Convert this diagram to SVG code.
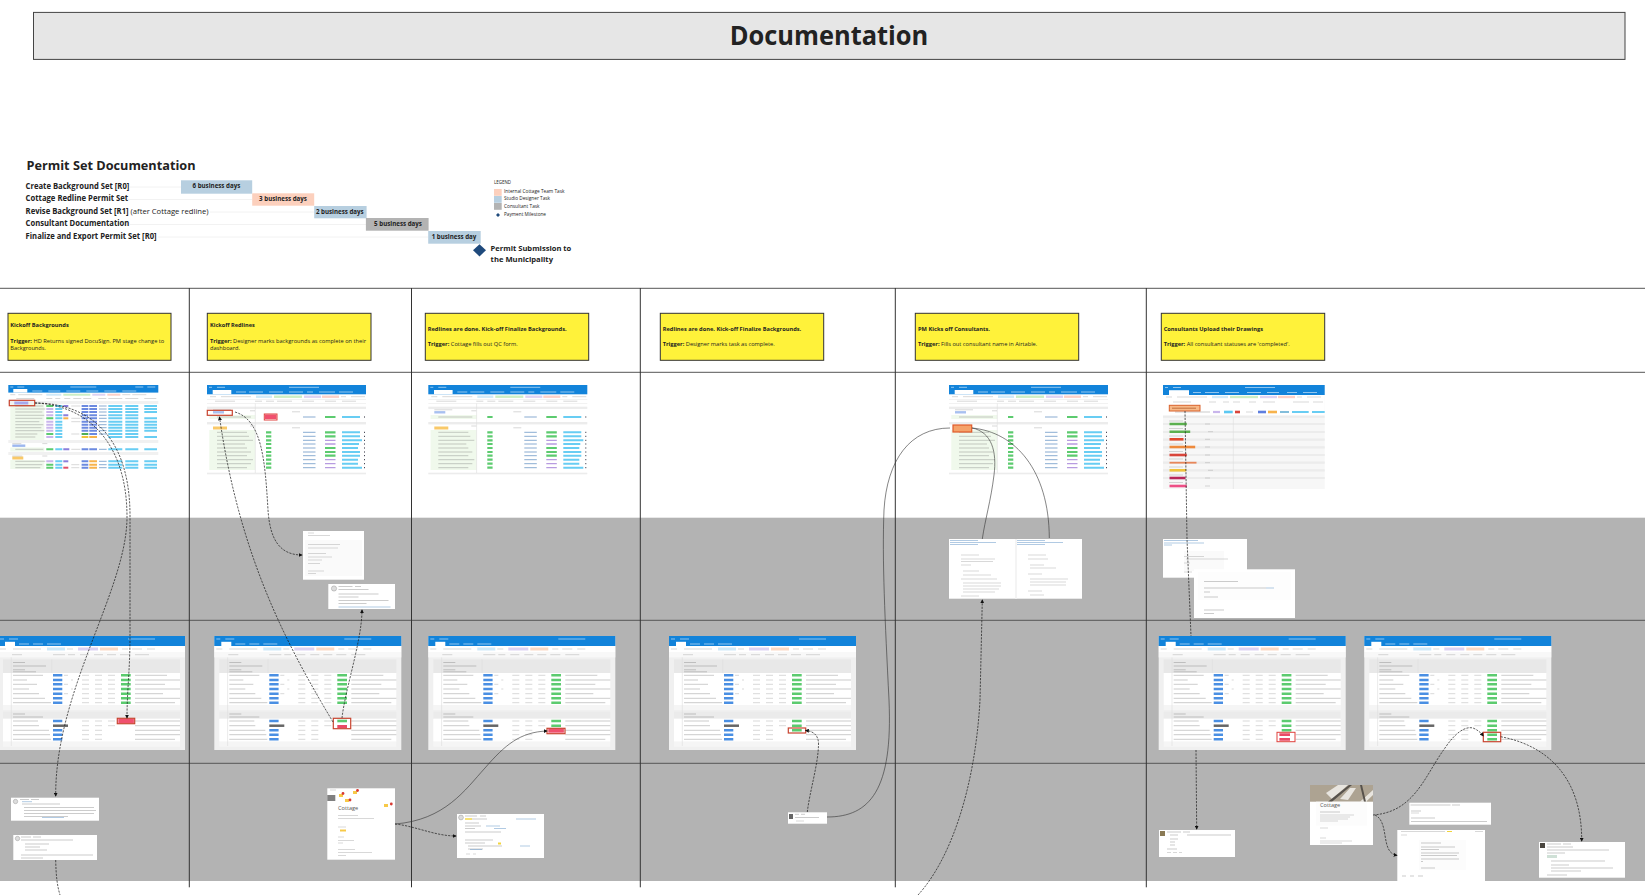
<svg xmlns="http://www.w3.org/2000/svg" width="1645" height="895" viewBox="0 0 1645 895">
<style>
text{font-family:"Open Sans","Noto Sans","Liberation Sans",sans-serif;fill:#222}
.b{font-weight:700}
.y{fill:#fff23a;stroke:#333;stroke-width:1}
.yt{font-size:5.4px}
.gl{font-size:8px;font-weight:700}
.bl{font-size:6.2px;font-weight:700;text-anchor:middle}
.lg{font-size:4.6px}
.w{fill:#fff}
.t{fill:none;stroke:#777;stroke-width:.9;opacity:.42}
.t2{fill:none;stroke:#999;stroke-width:.7;opacity:.55}
.lk{fill:none;stroke:#5b8fc4;stroke-width:.8;opacity:.6}
.wl{fill:none;stroke:#fff;stroke-width:.9;opacity:.6}
.pg{fill:none;stroke:#5ccb6f;stroke-width:2.6}
.pb{fill:none;stroke:#4a8fe3;stroke-width:2.5}
.pr{fill:none;stroke:#e94a66;stroke-width:3.4}
.pd{fill:none;stroke:#666;stroke-width:2.5}
.pc{fill:none;stroke:#68cdf3;stroke-width:2}
.pi{fill:none;stroke:#6c8ae0;stroke-width:2}
.pv{fill:none;stroke:#c9b6ec;stroke-width:2}
.po{fill:none;stroke:#f7b34c;stroke-width:2}
.box{fill:none;stroke:#e0413c;stroke-width:1}
.rb{fill:none;stroke:#c8442f;stroke-width:1.2}
.c{fill:none;stroke:#1a1a1a;stroke-width:.7;stroke-dasharray:2.2 1.2}
.s{fill:none;stroke:#333;stroke-width:.6}
.hl{stroke:#555;stroke-width:1}
.vl{stroke:#333;stroke-width:1}
</style>
<defs>
<marker id="a" viewBox="0 0 6 6" refX="5" refY="3" markerWidth="4" markerHeight="4" orient="auto" markerUnits="userSpaceOnUse"><path d="M0 0L6 3L0 6Z" fill="#111"/></marker>
<g id="dash">
<rect width="187" height="114" fill="#f0f0f0"/>
<rect width="187" height="10" fill="#1283da"/>
<path class="wl" d="M2 3h4M11 3h9M130 3h27"/>
<rect x="7" y="5.8" width="10" height="4.2" fill="#fff"/>
<path class="wl" d="M21 8h10M35 8h10M49 8h14"/>
<rect y="10" width="187" height="6" fill="#fff"/>
<rect y="16" width="187" height="5.4" fill="#f8f8f8"/>
<path class="t2" d="M2 13h6M15 13h28M69 13h6M124 13h6M134 13h10M149 13h8M14 18.7h10M55 18.7h12M70 18.7h7M82 18.7h9M96 18.7h9M109 18.7h9M122 18.7h10M137 18.7h14"/>
<path d="M49 13h18" stroke="#cfe9f8" stroke-width="3" fill="none"/><path d="M80 13h20" stroke="#ddd2f2" stroke-width="3" fill="none"/><path d="M102 13h18" stroke="#fbd9c4" stroke-width="3" fill="none"/>
<rect x="5" y="23.3" width="177" height="14" fill="#e8e8e8"/>
<rect x="5" y="37" width="177" height="32" fill="#fff"/>
<rect x="5" y="69" width="177" height="5" fill="#f5f5f5"/>
<rect x="5" y="75.7" width="177" height="7" fill="#ebebeb"/>
<rect x="5" y="82.7" width="177" height="23" fill="#fff"/>
<rect x="5" y="105.7" width="177" height="5" fill="#f5f5f5"/>
<path d="M13.3 21.4V110M53.7 23.3V37" stroke="#ddd" stroke-width=".6" fill="none"/>
<path class="t" d="M15 26.5h12M15 30h33M15 33.8h12M15 35.8h23M15 78h12M15 81h30"/>
<path class="t" d="M15 39.3h30M15 44h14M15 48.3h24M15 53h16M15 57.7h26M15 62.3h32M15 66.7h38M15 85h25M15 89.7h26M15 94.3h36M15 98.7h37M15 103.3h38"/>
<path class="pb" d="M55 39.3h9.3M55 44h9.3M55 48.3h9.3M55 53h9.3M55 57.7h9.3M55 62.3h9.3M55 66.7h9.3M55 85h9.3M55 94.3h9.3M55 98.7h9.3M55 103.3h9.3"/>
<path class="pd" d="M55 89.7h15"/>
<path class="t2" d="M66 39.3h4M66 48.3h4M66 57.7h4M73 44h2M73 53h2"/>
<path class="t2" d="M84 39.3h7M97 39.3h7M110 39.3h7M84 44h7M97 44h7M110 44h7M84 48.3h7M97 48.3h7M110 48.3h7M84 53h7M97 53h7M110 53h7M84 57.7h7M97 57.7h7M110 57.7h7M84 62.3h7M97 62.3h7M110 62.3h7M84 66.7h7M97 66.7h7M110 66.7h7M84 85h7M97 85h7M110 85h7M84 89.7h7M97 89.7h7M110 89.7h7M84 94.3h7M97 94.3h7M84 98.7h7M97 98.7h7M84 103.3h7M97 103.3h7"/>
<path class="pg" d="M123 39.3h9.7M123 44h9.7M123 48.3h9.7M123 53h9.7M123 57.7h9.7M123 62.3h9.7M123 66.7h9.7"/>
<path class="t" d="M137 39.3h32M137 44h45M137 48.3h30M137 53h45M137 57.7h28M137 62.3h45M137 66.7h40M137 85h45M137 89.7h45M137 94.3h45M137 98.7h45M137 103.3h40"/>
</g>
<g id="trk">
<rect width="159" height="89.3" fill="#fff"/>
<rect width="159" height="9.3" fill="#1283da"/>
<rect x="5.7" y="5" width="18.6" height="4.3" fill="#fff"/>
<path class="wl" d="M2 2.3h3M10 2.3h8M82 2.3h30M29 7h10M42 7h14M62 7h14M82 7h14M100 7h6M112 7h16M132 7h14"/>
<path d="M49 11.7h16" stroke="#cfe9f8" stroke-width="2.4" fill="none"/><path d="M67 11.7h28" stroke="#cbeec5" stroke-width="2.4" fill="none"/><path d="M97 11.7h17" stroke="#ddd2f2" stroke-width="2.4" fill="none"/><path d="M115 11.7h17" stroke="#fbd0c8" stroke-width="2.4" fill="none"/>
<path class="t2" d="M3 11.7h6M14 11.7h30M134 11.7h5M144 11.7h14M8 16.2h20M48 16.2h7M59 16.2h8M70 16.2h15M95 16.2h12M118 16.2h11M135 16.2h14"/>
<rect y="14" width="159" height=".5" fill="#e5e5e5"/><rect y="18.3" width="159" height=".5" fill="#e5e5e5"/>
<rect y="21.7" width="159" height="2.2" fill="#ececec"/><rect y="37" width="159" height="2.4" fill="#ececec"/><rect y="87.7" width="159" height="1.6" fill="#ececec"/>
<rect x="2.3" y="30" width="46" height="4" fill="#f0f9ec"/><rect x="2.3" y="45" width="46" height="40" fill="#f0f9ec"/>
<path d="M48.3 18.5V88" stroke="#ddd" stroke-width=".6" fill="none"/>
<path d="M6 27.3h11" stroke="#a8c0f0" stroke-width="2.4" fill="none"/><path d="M6 43h14" stroke="#f9c969" stroke-width="3" fill="none"/>
<path class="t2" d="M6 24.8h18M43 25.8h5M43 41h5M85 26.8h8M85 42.8h8"/>
<path class="t" d="M10 32h34M10 47.3h30M10 51.3h32M10 55.3h36M10 59h28M10 63h30M10 67h34M10 70.7h30M10 74.7h36M10 78.7h34M10 82.7h30"/>
<path d="M96 32h12.5M96 47.3h12.5M96 51.3h12.5M96 55.3h12.5M96 59h12.5M96 63h12.5M96 67h12.5M96 70.7h12.5M96 74.7h12.5M96 78.7h12.5M96 82.7h12.5" stroke="#4a80b8" stroke-width="1" fill="none" opacity=".65"/>
<path d="M118 32h10.5M118 47.3h10.5M118 51.3h10.5M118 63h10.5M118 67h10.5M118 70.7h10.5" stroke="#5ccb6f" stroke-width="2.2" fill="none"/>
<path d="M118 55.3h10.5M118 59h10.5M118 74.7h10.5M118 78.7h10.5M118 82.7h10.5" stroke="#b79be0" stroke-width="1.3" fill="none"/>
<path class="pc" d="M135 32h18M135 47.3h18M135 51.3h18M135 55.3h20M135 59h17M135 63h16M135 67h18M135 70.7h18M135 74.7h16M135 78.7h16M135 82.7h20"/>
<path d="M157 32h1M157 47.3h1M157 51.3h1M157 55.3h1M157 59h1M157 63h1M157 67h1M157 70.7h1M157 74.7h1M157 78.7h1M157 82.7h1" stroke="#223" stroke-width="1" fill="none"/>
</g>
<path id="tg10" d="M59 32h5.3M59 47.3h5.3M59 51.3h5.3M59 55.3h5.3M59 59h5.3M59 63h5.3M59 67h5.3M59 70.7h5.3M59 74.7h5.3M59 78.7h5.3M59 82.7h5.3" stroke="#5ccb6f" stroke-width="2.2" fill="none"/>
</defs>

<rect width="1645" height="895" fill="#fff"/>
<g id="bands">
<rect y="517.7" width="1645" height="363.3" fill="#b3b3b3"/>
<path class="hl" d="M0 288.3H1645M0 372.3H1645M0 620.3H1645M0 763.3H1645"/>
<path class="vl" d="M189.3 288V887.3M411.5 288V887.3M640.3 288V887.3M895.3 288V887.3M1146.3 288V887.3"/>
</g>

<g id="title"><rect x="33.5" y="12.4" width="1591.5" height="47" fill="#e6e6e6" stroke="#444" stroke-width="1"/>
<text x="829" y="44.5" font-size="27.5" class="b" text-anchor="middle" textLength="198.5" lengthAdjust="spacingAndGlyphs">Documentation</text></g>

<g id="gantt">
<text x="26.5" y="170" font-size="13" class="b" textLength="169" lengthAdjust="spacingAndGlyphs">Permit Set Documentation</text>
<path d="M130 187h51M128 199.5h124M210 212h104M130 224.5h236M158 237h270" stroke="#f2f2f2" stroke-width="1" fill="none"/>
<text class="gl" x="25.6" y="189" textLength="103.7" lengthAdjust="spacingAndGlyphs">Create Background Set [R0]</text>
<text class="gl" x="25.6" y="201.3" textLength="102.6" lengthAdjust="spacingAndGlyphs">Cottage Redline Permit Set</text>
<text class="gl" x="25.6" y="213.7" textLength="183" lengthAdjust="spacingAndGlyphs">Revise Background Set [R1] <tspan font-weight="400">(after Cottage redline)</tspan></text>
<text class="gl" x="25.6" y="226" textLength="103.7" lengthAdjust="spacingAndGlyphs">Consultant Documentation</text>
<text class="gl" x="25.6" y="239" textLength="131" lengthAdjust="spacingAndGlyphs">Finalize and Export Permit Set [R0]</text>
<rect x="181" y="180.3" width="71.2" height="13.4" fill="#b7cfe0"/>
<rect x="252.2" y="193.3" width="62" height="12.4" fill="#fcd0bd"/>
<rect x="314.2" y="206" width="52.4" height="12.3" fill="#b7cfe0"/>
<rect x="365.9" y="218" width="62.7" height="12.7" fill="#b3b3b3"/>
<rect x="428.2" y="231" width="52.5" height="12.7" fill="#b7cfe0"/>
<text class="bl" x="216.4" y="187.7">6 business days</text>
<text class="bl" x="283" y="201">3 business days</text>
<text class="bl" x="339.8" y="213.7">2 business days</text>
<text class="bl" x="398" y="226">5 business days</text>
<text class="bl" x="454" y="238.7">1 business day</text>
<path d="M479.5 244.2L486 250.3L479.5 256.4L473 250.3Z" fill="#1f4a7c"/>
<text class="b" x="490.6" y="251" font-size="7.8" textLength="80.7" lengthAdjust="spacingAndGlyphs">Permit Submission to</text>
<text class="b" x="490.6" y="262.3" font-size="7.8" textLength="62.4" lengthAdjust="spacingAndGlyphs">the Municipality</text>
</g>
<g id="legend">
<text class="lg" x="494" y="184.3" textLength="17" lengthAdjust="spacingAndGlyphs">LEGEND</text>
<rect x="494" y="189" width="7.7" height="6.8" fill="#fcd0bd"/><rect x="494" y="196" width="7.7" height="6.8" fill="#b7cfe0"/><rect x="494" y="203" width="7.7" height="6.8" fill="#b3b3b3"/>
<path d="M498 213L500 215L498 217L496 215Z" fill="#1f4a7c"/>
<text class="lg" x="504" y="193.2" textLength="60.5" lengthAdjust="spacingAndGlyphs">Internal Cottage Team Task</text>
<text class="lg" x="504" y="200.4" textLength="46" lengthAdjust="spacingAndGlyphs">Studio Designer Task</text>
<text class="lg" x="504" y="208" textLength="35.6" lengthAdjust="spacingAndGlyphs">Consultant Task</text>
<text class="lg" x="504" y="216.4" textLength="42" lengthAdjust="spacingAndGlyphs">Payment Milestone</text>
</g>

<g id="trigger-1"><rect class="y" x="8" y="313.3" width="163" height="47"/>
<text class="yt b" x="10.3" y="326.7" textLength="58.5" lengthAdjust="spacingAndGlyphs">Kickoff Backgrounds</text>
<text class="yt" x="10.3" y="342.7" textLength="154" lengthAdjust="spacingAndGlyphs"><tspan class="b">Trigger:</tspan> HD Returns signed DocuSign. PM stage change to</text>
<text class="yt" x="10.3" y="350.3" textLength="35.6" lengthAdjust="spacingAndGlyphs">Backgrounds.</text></g>
<g id="trigger-2"><rect class="y" x="207.3" y="313.3" width="163.7" height="47"/>
<text class="yt b" x="210" y="326.7" textLength="44.8" lengthAdjust="spacingAndGlyphs">Kickoff Redlines</text>
<text class="yt" x="210" y="342.7" textLength="156" lengthAdjust="spacingAndGlyphs"><tspan class="b">Trigger:</tspan> Designer marks backgrounds as complete on their</text>
<text class="yt" x="210" y="350.3" textLength="30" lengthAdjust="spacingAndGlyphs">dashboard.</text></g>
<g id="trigger-3"><rect class="y" x="425.3" y="313.3" width="163.4" height="47"/>
<text class="yt b" x="427.7" y="330.7" textLength="139" lengthAdjust="spacingAndGlyphs">Redlines are done. Kick-off Finalize Backgrounds.</text>
<text class="yt" x="427.7" y="346.3" textLength="90" lengthAdjust="spacingAndGlyphs"><tspan class="b">Trigger:</tspan> Cottage fills out QC form.</text></g>
<g id="trigger-4"><rect class="y" x="660.3" y="313.3" width="163.4" height="47"/>
<text class="yt b" x="662.7" y="330.7" textLength="138.5" lengthAdjust="spacingAndGlyphs">Redlines are done. Kick-off Finalize Backgrounds.</text>
<text class="yt" x="662.7" y="346.3" textLength="112" lengthAdjust="spacingAndGlyphs"><tspan class="b">Trigger:</tspan> Designer marks task as complete.</text></g>
<g id="trigger-5"><rect class="y" x="915.3" y="313.3" width="163.4" height="47"/>
<text class="yt b" x="918" y="330.7" textLength="72" lengthAdjust="spacingAndGlyphs">PM Kicks off Consultants.</text>
<text class="yt" x="918" y="346.3" textLength="119.3" lengthAdjust="spacingAndGlyphs"><tspan class="b">Trigger:</tspan> Fills out consultant name in Airtable.</text></g>
<g id="trigger-6"><rect class="y" x="1161.3" y="313.3" width="163.4" height="47"/>
<text class="yt b" x="1163.7" y="330.7" textLength="99.3" lengthAdjust="spacingAndGlyphs">Consultants Upload their Drawings</text>
<text class="yt" x="1163.7" y="346.3" textLength="126" lengthAdjust="spacingAndGlyphs"><tspan class="b">Trigger:</tspan> All consultant statuses are 'completed'.</text></g>

<g id="tracker-1" transform="translate(8.3 385)">
<rect width="150" height="85" fill="#fff"/>
<rect width="150" height="7.6" fill="#1283da"/>
<rect x="5" y="4" width="14" height="3.6" fill="#fff"/>
<path class="wl" d="M2 2h3M9 2h7M62 2h26M127 2h8M139 2h8M24 6h10M40 6h12M58 6h14M78 6h12M96 6h12M114 6h14"/>
<path d="M38 9.7h15" stroke="#cfe9f8" stroke-width="2" fill="none"/><path d="M55 9.7h27" stroke="#cbeec5" stroke-width="2" fill="none"/><path d="M84 9.7h13" stroke="#ddd2f2" stroke-width="2" fill="none"/><path d="M99 9.7h13" stroke="#fbd0c8" stroke-width="2" fill="none"/>
<path class="t2" d="M2 9.7h5M10 9.7h24M114 9.7h8M124 9.7h14M8 13.5h18M38 13.5h6M47 13.5h5M56 13.5h6M65 13.5h8M75 13.5h8M90 13.5h8M100 13.5h14M117 13.5h13M136 13.5h12"/>
<rect y="16" width="150" height="3" fill="#f1f1f1"/><rect y="55" width="150" height="3" fill="#f1f1f1"/><rect y="67" width="150" height="3" fill="#f1f1f1"/>
<rect x="2" y="19" width="34" height="36" fill="#f0f9ec"/><rect x="2" y="62.5" width="34" height="4" fill="#f0f9ec"/><rect x="2" y="75" width="34" height="9" fill="#f0f9ec"/>
<path d="M6 18h14" stroke="#a6a8ee" stroke-width="3" fill="none"/><path d="M4 60.7h13" stroke="#9db7ef" stroke-width="2.4" fill="none"/><path d="M4 73h11" stroke="#f9c969" stroke-width="3" fill="none"/>
<path class="t2" d="M4 58.6h9M4 71h10M34 58.6h5M34 71h5"/>
<path class="t" d="M7 21h28M7 24h30M7 27h27M7 30.3h29M7 33.3h27M7 36.7h24M7 39.7h28M7 42.7h26M7 45.7h29M7 49h22M7 52h20M7 64.3h28M7 76.3h30M7 79.7h27M7 82.7h25"/>
<path class="pv" d="M38 24h7M38 27h7M38 30.3h7M38 36.7h7M38 39.7h7M38 42.7h7M38 45.7h7M38 52h7M38 76.3h7"/>
<path class="pg" style="stroke-width:2" d="M38 21h7M38 33.3h7M38 49h7M38 64.3h7M38 79.7h7M38 82.7h7"/>
<path class="pc" d="M47 21h7M47 24h7M47 27h7M47 30.3h7M47 33.3h7M47 36.7h7M47 39.7h7M47 42.7h7M47 45.7h7M47 49h7M47 52h7M47 64.3h7M47 76.3h7M47 79.7h7M47 82.7h7"/>
<path d="M55 21h5M55 30.3h5M55 64.3h6" stroke="#8a7fdc" stroke-width="2" fill="none"/><path d="M55 33.3h5" stroke="#f7b34c" stroke-width="2" fill="none"/><path d="M55 76.3h5" stroke="#8a7fdc" stroke-width="2" fill="none"/><path d="M55 82.7h5" stroke="#e0506a" stroke-width="2" fill="none"/>
<path class="t2" d="M63 21h9M63 33.3h9M63 36.7h9M63 49h8M63 64.3h9M63 79.7h8M63 82.7h8"/>
<path class="pi" d="M73.3 21h6.7M73.3 24h6.7M73.3 27h6.7M73.3 30.3h6.7M73.3 33.3h6.7M73.3 36.7h6.7M73.3 39.7h6.7M73.3 42.7h6.7M73.3 45.7h6.7M73.3 64.3h6.7M73.3 76.3h6.7M73.3 79.7h6.7M73.3 82.7h6.7M81 21h7.7M81 24h7.7M81 27h7.7M81 30.3h7.7M81 33.3h7.7M81 36.7h7.7M81 39.7h7.7M81 42.7h7.7M81 45.7h7.7M81 49h7.7M81 64.3h7.7"/>
<path d="M73.3 49h6.7" stroke="#4fae57" stroke-width="2" fill="none"/><path d="M73.3 52h6.7" stroke="#f2c33c" stroke-width="2" fill="none"/><path class="po" d="M81 52h7.7M81 76.3h7.7M81 79.7h7.7M81 82.7h7.7"/>
<path d="M90.7 21h7.6M90.7 24h7.6M90.7 27h7.6M90.7 30.3h7.6M90.7 33.3h7.6M90.7 36.7h7.6M90.7 39.7h7.6M90.7 42.7h7.6M90.7 45.7h7.6M90.7 49h7.6M90.7 64.3h7.6M90.7 76.3h7.6M90.7 79.7h7.6M90.7 82.7h7.6" stroke="#4a80b8" stroke-width="1" fill="none" opacity=".65"/>
<path class="pc" d="M100 21h14M100 24h14M100 27h14M100 30.3h14M100 33.3h14M100 36.7h14M100 39.7h14M100 42.7h14M100 45.7h14M100 49h14M100 52h14M100 64.3h14M100 76.3h14M100 79.7h14M100 82.7h14M117 21h13M117 24h13M117 27h13M117 30.3h13M117 33.3h13M117 36.7h13M117 39.7h13M117 42.7h13M117 45.7h13M117 49h13M117 52h13M117 64.3h13M117 76.3h13M117 79.7h13M117 82.7h13M136 21h12.7M136 24h12.7M136 27h12.7M136 33.3h12.7M136 36.7h12.7M136 39.7h12.7M136 42.7h12.7M136 45.7h12.7M136 52h12.7M136 64.3h12.7M136 76.3h12.7M136 79.7h12.7M136 82.7h12.7"/>
<rect class="rb" x="1" y="15.3" width="25.4" height="5.4"/>
</g>
<g id="tracker-2" transform="translate(207 385)"><use href="#trk"/><use href="#tg10"/>
<rect x="58" y="29.5" width="11.5" height="4.5" fill="#f0506e"/><rect class="box" x="57.3" y="29" width="12.7" height="6"/>
<rect class="rb" x=".3" y="25.3" width="25" height="5"/></g>
<g id="tracker-3" transform="translate(428.3 385)"><use href="#trk"/><use href="#tg10"/></g>
<g id="tracker-4" transform="translate(949 385)"><use href="#trk"/><use href="#tg10"/>
<rect x="4" y="40" width="18.7" height="7" fill="#f5a26a" stroke="#e05a2b" stroke-width="1.2"/></g>
<g id="tracker-5" transform="translate(1163 385)">
<rect width="161.7" height="104" fill="#f7f7f7"/>
<rect width="161.7" height="10" fill="#1283da"/>
<rect x="6" y="5.2" width="20" height="4.8" fill="#fff"/>
<rect y="10" width="161.7" height="22" fill="#fff"/>
<path class="wl" d="M2 2.5h3M10 2.5h8M82 2.5h30M30 7.5h8M42 7.5h14M62 7.5h14M84 7.5h14M104 7.5h12M124 7.5h10M140 7.5h14"/>
<path d="M49 12h16" stroke="#cfe9f8" stroke-width="2.4" fill="none"/><path d="M67 12h28" stroke="#cbeec5" stroke-width="2.4" fill="none"/><path d="M97 12h17" stroke="#ddd2f2" stroke-width="2.4" fill="none"/><path d="M115 12h17" stroke="#fbd0c8" stroke-width="2.4" fill="none"/>
<path class="t2" d="M3 12h6M14 12h30M134 12h5M144 12h14M10 17h18M46 17h7M60 17h6M70 17h7M86 17h7M100 17h12M130 17h16M150 17h10"/>
<path class="t" d="M12 27h35"/>
<path d="M50 27h7" stroke="#c9b6ec" stroke-width="2.2" fill="none"/><path d="M61 27h8.7" stroke="#5cc8f2" stroke-width="2.6" fill="none"/><path d="M72 27h5" stroke="#d9453b" stroke-width="2.6" fill="none"/><path d="M95 27h8" stroke="#5f7fdf" stroke-width="2.6" fill="none"/><path d="M105 27h9" stroke="#f7b34c" stroke-width="2.6" fill="none"/><path d="M117 27h9" stroke="#5aa8cf" stroke-width="1.5" fill="none"/><path class="pc" d="M129 27h16.7M149 27h12.7"/><path class="t2" d="M83 27h7"/>
<path d="M0 31.7H161.7M0 39H161.7M0 47H161.7M0 54.7H161.7M0 62.3H161.7M0 70H161.7M0 77.7H161.7M0 85.3H161.7M0 93H161.7" stroke="#ececec" stroke-width="2.2" fill="none"/>
<path d="M70.3 32V104" stroke="#ddd" stroke-width=".6" fill="none"/>
<path stroke-width="2.6" fill="none" stroke="#5bb04f" d="M6.5 39h17.3M6.5 46.7h20.7"/>
<path stroke-width="2.6" fill="none" stroke="#e0482c" d="M6.5 54.3h14"/>
<path stroke-width="2.6" fill="none" stroke="#ee8a3c" d="M6.5 62h25.7"/>
<path stroke-width="2.6" fill="none" stroke="#d9453b" d="M6.5 70h17.3"/>
<path stroke-width="1.8" fill="none" stroke="#e8875a" d="M6.5 77.7h27"/>
<path stroke-width="2.6" fill="none" stroke="#f0c43c" d="M6.5 85.3h16.7"/>
<path stroke-width="2.6" fill="none" stroke="#b8285a" d="M6.5 93h16"/>
<path stroke-width="2.6" fill="none" stroke="#ee4f86" d="M6.5 101h17.3"/>
<path class="t2" d="M6 36h14M6 43.5h14M6 51h14M6 59h14M6 66.5h14M6 74h14M6 82h14M6 90h14M6 97.5h14M42 39h5M45 46.7h5M42 54.3h5M42 62h5M42 70h5M42 77.7h5M45 85.3h5M42 93h5M42 101h5"/>
<rect x="6.3" y="20.3" width="30.7" height="5.7" fill="#f7b887" stroke="#d9622c" stroke-width="1"/>
<path d="M9 23.2h24" stroke="#b5602c" stroke-width=".8" fill="none"/>
</g>

<g id="dashboard-1" transform="translate(-2 636)"><use href="#dash"/>
<rect x="120.3" y="83" width="15.6" height="4" fill="#f0506e"/><rect class="rb" x="119.3" y="82.3" width="17.4" height="5.4"/></g>
<g id="dashboard-2" transform="translate(214.3 636)"><use href="#dash"/>
<path class="pg" d="M123 85h9.7"/><path class="pr" style="stroke-width:3" d="M123 90.5h9.7"/><rect class="rb" x="119" y="82.3" width="17.4" height="10.4"/></g>
<g id="dashboard-3" transform="translate(428.3 636)"><use href="#dash"/>
<path class="pg" d="M123 85h9.7M123 89.7h9.7"/><rect x="120" y="92.7" width="15.6" height="4" fill="#f0506e"/><rect class="rb" x="118.7" y="92.3" width="18" height="5.4"/></g>
<g id="dashboard-4" transform="translate(669 636)"><use href="#dash"/>
<path class="pg" d="M123 85h9.7M123 89.7h9.7M123 94.3h9.7"/><rect class="rb" x="119.3" y="92" width="17.4" height="5"/></g>
<g id="dashboard-5" transform="translate(1158.7 636)"><use href="#dash"/>
<path class="pg" d="M123 85h9.7M123 89.7h9.7M123 94.3h9.7"/><path class="pr" style="stroke-width:2.8" d="M120.7 98.7h10.6M120.7 103.3h10.6"/><rect class="box" x="118.3" y="96.3" width="18" height="9.4"/></g>
<g id="dashboard-6" transform="translate(1364.3 636)"><use href="#dash"/>
<path class="pg" d="M123 85h9.7M123 89.7h9.7M123 94.3h9.7M123 98.7h9.7M123 103.3h9.7"/><rect class="rb" x="119" y="96.3" width="17.4" height="9.4"/></g>

<g id="email-a"><rect class="w" x="303" y="531" width="61" height="48.7"/>
<path class="t2" d="M308 533h6M308 535.5h22"/><rect x="305" y="540" width="57" height="36" fill="#fafafa"/>
<path class="t2" d="M308 544.5h32M308 548h30M308 553.5h18M308 557h24M308 560h14M308 563.5h12M308 571h16M308 573.5h8"/></g>
<g id="comment-b"><rect class="w" x="328.3" y="584" width="66.7" height="25"/>
<circle cx="334" cy="588.5" r="2.6" fill="#ddd" stroke="#999" stroke-width=".5"/>
<path class="t" d="M338.5 586.5h14M355 586.5h6M338.5 589.5h30M338.5 594h40M338.5 597h20M338.5 600.5h50M338.5 603.5h28"/><path class="lk" d="M338.5 607h52"/></g>
<g id="comment-c"><rect class="w" x="11" y="797.7" width="88" height="23"/>
<circle cx="15.5" cy="801.5" r="2.2" fill="#ddd" stroke="#999" stroke-width=".5"/>
<path class="t" d="M20 799.5h9M31 799.5h8M22 804h38M24 807.5h70M24 810.5h72M24 813.5h70M24 816.5h44"/><path class="lk" d="M22 801.7h10M42 817.5h22"/></g>
<g id="comment-d"><rect class="w" x="13.3" y="835" width="83.7" height="25"/>
<circle cx="17.5" cy="838.5" r="2.2" fill="#ddd" stroke="#999" stroke-width=".5"/>
<path class="t" d="M21 837h10M33 837h8M21 840h52M25 844h24M25 847h15M25 850h22M21 855h72M21 858h22"/></g>
<g id="form-e"><rect class="w" x="327.3" y="788.3" width="67.7" height="71.4"/>
<rect x="327.3" y="795" width="8" height="6" fill="#555" opacity=".75"/>
<path class="t2" d="M330 790h6"/>
<g fill="#f7c948"><rect x="339" y="794" width="4" height="3"/><rect x="345" y="799" width="4" height="3"/><rect x="353" y="791" width="4" height="3"/><rect x="384" y="804" width="4" height="3"/></g>
<g fill="#d83a32"><circle cx="343" cy="793.5" r="1.4"/><circle cx="350" cy="800" r="1.4"/><circle cx="357.5" cy="790.5" r="1.4"/><circle cx="391.3" cy="804" r="1.4"/></g>
<text x="338" y="810" style="font-size:5.6px;fill:#555">Cottage</text>
<path class="t2" d="M338 815.5h20M338 818.5h36M338 827h8M338 837h6M338 840.5h16M338 843h5M338 849.5h17M338 852.5h34M338 855.5h8"/>
<path d="M340 830.5h6" stroke="#f7c948" stroke-width="2" fill="none"/></g>
<g id="comment-f"><rect class="w" x="457" y="814" width="87" height="44"/>
<circle cx="461" cy="817.5" r="2.4" fill="#ddd" stroke="#999" stroke-width=".5"/>
<path class="t" d="M465 816h12M480 816h6M472 819h15M465 823h14M465 826h16M465 828.5h10M465 832h36M465 840h28M465 843h20M468 846h34M468 849h15"/>
<path class="lk" d="M516 819h20M486 826h14M494 828.5h12M520 846h10M470 849.5h12"/>
<path d="M465 819h7" stroke="#f2d43c" stroke-width="1.4" fill="none"/><path d="M498 843.5h3" stroke="#f2d43c" stroke-width="2" fill="none"/>
<path class="t2" d="M466 854h4M473 854h3"/></g>
<g id="comment-g"><rect class="w" x="788" y="812.3" width="39" height="11.4"/>
<rect x="789" y="814" width="4" height="5" fill="#666"/>
<path class="t" d="M795 814.3h4M801 814.3h4M795 817.5h24"/><path class="t2" d="M796 821h8"/></g>
<g id="doc-h"><rect class="w" x="949" y="539" width="133" height="59.7"/>
<rect x="1015" y="539" width="2" height="59.7" fill="#f4f4f4"/>
<path class="lk" d="M950 540.5h28M950 542.5h46M950 544.5h28M1017 540.5h28M1017 542.5h46M1017 544.5h28"/>
<path class="t2" d="M961 555h18M961 559h34M961 561.5h32M961 565h10M963 571h16M963 575h28M961 579h36M963 583h38M963 586h38M963 589h36M963 592h32M961 596h18M1028 555h18M1028 559h20M1030 565h14M1030 568h26M1028 574h14M1030 579h38M1030 582h36M1030 585h36M1028 591h14M1030 595h14"/></g>
<g id="doc-i"><rect class="w" x="1163" y="539" width="84" height="38.7"/>
<rect x="1184" y="551" width="40" height="20" fill="#fafafa"/>
<path class="lk" d="M1164 540.5h34M1164 543h40M1164 545h8"/>
<path class="t2" d="M1184 556.5h20M1186 559h42M1184 563h6M1184 572h8"/></g>
<g id="doc-j"><rect class="w" x="1194" y="569.3" width="101" height="48.7"/>
<rect x="1198" y="572" width="93" height="28" fill="#fdfdfd"/>
<path class="t" d="M1204 581.5h34M1204 588h62M1204 592h6M1204 597h14M1204 610h20M1204 613.5h10"/><path class="lk" d="M1266 588h8"/></g>
<g id="comment-k"><rect class="w" x="1159" y="830" width="76" height="27"/>
<rect x="1160" y="831" width="5" height="5" fill="#8a7a55"/>
<path class="t" d="M1167 832h14M1183 832h7M1170 835h8M1187 835h44M1170 839h8M1170 842h5M1170 845h5M1167 849h10"/><path class="t2" d="M1167 852.5h4M1173 852.5h4M1179 852.5h3"/></g>
<g id="form-l"><rect class="w" x="1310" y="785" width="63" height="60"/>
<rect x="1310" y="785" width="63" height="16.7" fill="#ada392"/>
<path d="M1326 793L1338 785h10L1332 799ZM1340 799L1350 788h6L1348 800ZM1360 801.7L1373 790v5L1366 801.7Z" fill="#e8e5df"/>
<path d="M1332 801.7L1352 785h-3L1328 801.7Z" fill="#57524c"/>
<path d="M1360 785l4 16.7h2L1362 785Z" fill="#57524c"/>
<rect x="1316" y="801.7" width="51" height="24" fill="#fcfcfc"/>
<text x="1320" y="807" style="font-size:5.6px;fill:#555">Cottage</text>
<path class="t" d="M1320 812h20"/><path class="t2" d="M1320 815h34M1320 817h30M1320 819h28M1320 821h18M1320 828h8M1320 838h6M1320 841h32M1320 843h22"/></g>
<g id="comment-m"><rect class="w" x="1409.3" y="802.7" width="81.7" height="22"/>
<path class="t" d="M1410.5 805h40M1452 805h8M1411 811h10M1411 818h24M1411 821.5h76"/><path class="t2" d="M1411 813h8"/></g>
<g id="doc-n"><rect class="w" x="1397.3" y="830" width="87.7" height="51"/>
<path class="t2" d="M1401 831.5h44M1401 835h6M1475 831.5h8"/><path d="M1447 831.5h5" stroke="#f2d43c" stroke-width="1" fill="none"/>
<rect x="1419" y="840" width="47" height="30" fill="#fcfcfc"/>
<path class="t" d="M1421 843h20M1421 847h34M1421 849.5h18M1421 853h38M1421 855.5h36M1421 859h38M1421 861.5h2M1421 868h14M1402 876h4M1410 876h4M1418 876h5"/></g>
<g id="comment-o"><rect class="w" x="1539" y="842" width="86" height="35.7"/>
<rect x="1540" y="843" width="5" height="5" fill="#4a4640"/>
<path class="t" d="M1547 844h14M1563 844h8M1547 847h26M1547 850h62M1547 853h18M1551 861h54M1551 865h18M1551 868h62M1551 871h30M1547 875h20"/><rect x="1547" y="855" width="10" height="3" fill="#cfe0d6"/></g>

<g id="connectors">
<path class="c" marker-end="url(#a)" d="M35 403C78 403 130 425 130 516V636C130 670 127 690 127 718"/>
<path class="c" marker-end="url(#a)" d="M35 403C85 405 127 440 127 517C127 590 55 690 55.7 796"/>
<path class="c" d="M55.7 860C56 875 57 885 60 895"/>
<path class="c" marker-end="url(#a)" d="M235 412C262 420 265 460 268 510C270 540 280 555 302 555"/>
<path class="c" marker-end="url(#a)" d="M333 722C290 650 240 560 219.5 417"/>
<path class="c" marker-end="url(#a)" d="M342 718C345 690 362 640 362 610"/>
<path class="s" marker-end="url(#a)" d="M395 824C445 820 465 790 485 768C505 745 520 732 547 731"/>
<path class="c" marker-end="url(#a)" d="M395 824C415 826 435 836 456 836"/>
<path class="s" d="M827 817C870 817 893 790 889 700C885 620 882 560 884 510C887 460 910 428 950 428"/>
<path class="c" marker-end="url(#a)" d="M807.3 812C810 790 818 765 818.5 745C819 735 813 731 805.5 730.5"/>
<path class="s" d="M972 428C992 432 997 452 994 475C991 500 985 520 982.3 539"/>
<path class="s" d="M972 428C1015 432 1049 470 1049.3 538"/>
<path class="c" marker-end="url(#a)" d="M918 895C950 860 975 790 980 700L982.3 600"/>
<path class="c" d="M1185 411L1187 539L1191 636"/>
<path class="c" marker-end="url(#a)" d="M1196 750L1196.7 829"/>
<path class="c" marker-end="url(#a)" d="M1373 815C1415 812 1425 775 1445 748C1455 733 1465 726 1473 728C1478 730 1481 733 1483.3 736"/>
<path class="c" marker-end="url(#a)" d="M1375 815C1390 822 1380 853 1397 855.3"/>
<path class="c" marker-end="url(#a)" d="M1500.7 736.7C1545 745 1582 775 1581.7 841"/>
</g>
</svg>
